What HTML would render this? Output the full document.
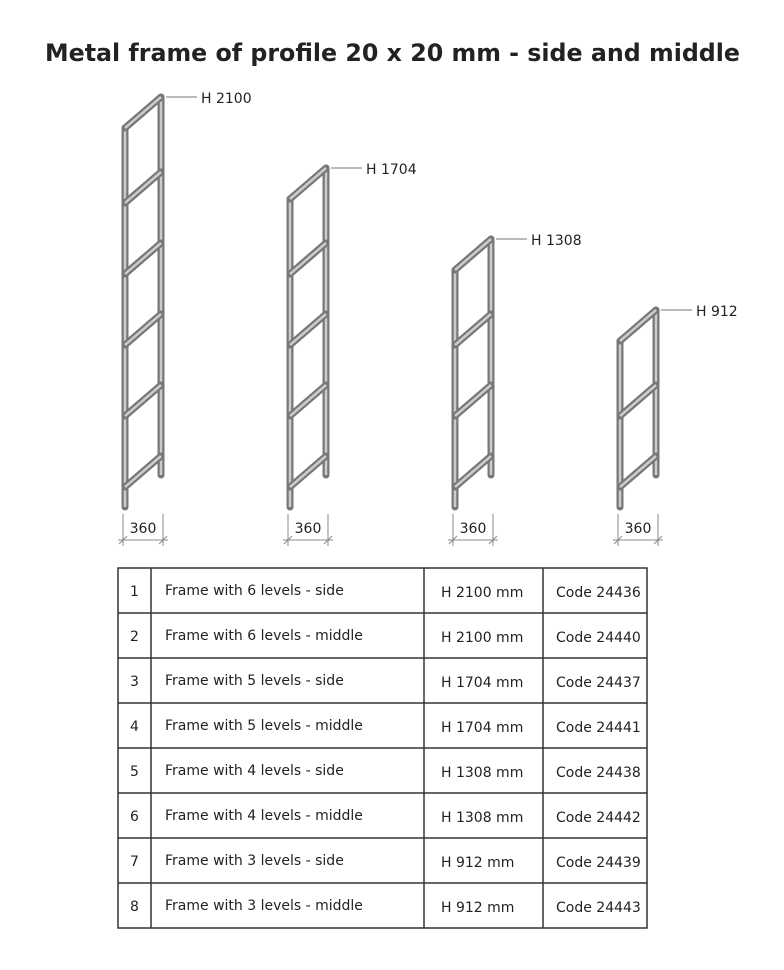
<!DOCTYPE html>
<html><head><meta charset="utf-8"><style>
html,body{margin:0;padding:0;background:#fff;width:784px;height:970px;overflow:hidden}
svg{display:block}
text{font-family:"DejaVu Sans","Liberation Sans",sans-serif;fill:#222}
</style></head><body>
<svg width="784" height="970" viewBox="0 0 784 970">
<text x="45" y="61" font-size="24" font-weight="bold" textLength="695" lengthAdjust="spacingAndGlyphs" fill="#111">Metal frame of profile 20 x 20 mm - side and middle</text>
<defs>
<g id="rung">
<line x1="0" y1="31" x2="36" y2="0" stroke="#777" stroke-width="7" stroke-linecap="round"/>
<line x1="0" y1="31" x2="36" y2="0" stroke="#ccc" stroke-width="2.5"/>
</g>
</defs>
<!-- frame 1 -->
<g>
<line x1="125" y1="128" x2="125" y2="507" stroke="#777" stroke-width="7" stroke-linecap="round"/>
<line x1="125" y1="128" x2="125" y2="507" stroke="#ccc" stroke-width="2.5"/>
<line x1="161" y1="97" x2="161" y2="475" stroke="#777" stroke-width="7" stroke-linecap="round"/>
<line x1="161" y1="97" x2="161" y2="475" stroke="#ccc" stroke-width="2.5"/>
<use href="#rung" x="125" y="97"/>
<use href="#rung" x="125" y="172"/><use href="#rung" x="125" y="243"/><use href="#rung" x="125" y="314"/><use href="#rung" x="125" y="385"/><use href="#rung" x="125" y="456"/>
<line x1="166" y1="97" x2="197" y2="97" stroke="#777" stroke-width="1"/>
<text x="201" y="103" font-size="14">H 2100</text>
</g>
<!-- frame 2 -->
<g>
<line x1="290" y1="199" x2="290" y2="507" stroke="#777" stroke-width="7" stroke-linecap="round"/>
<line x1="290" y1="199" x2="290" y2="507" stroke="#ccc" stroke-width="2.5"/>
<line x1="326" y1="168" x2="326" y2="475" stroke="#777" stroke-width="7" stroke-linecap="round"/>
<line x1="326" y1="168" x2="326" y2="475" stroke="#ccc" stroke-width="2.5"/>
<use href="#rung" x="290" y="168"/>
<use href="#rung" x="290" y="243"/><use href="#rung" x="290" y="314"/><use href="#rung" x="290" y="385"/><use href="#rung" x="290" y="456"/>
<line x1="331" y1="168" x2="362" y2="168" stroke="#777" stroke-width="1"/>
<text x="366" y="174" font-size="14">H 1704</text>
</g>
<!-- frame 3 -->
<g>
<line x1="455" y1="270" x2="455" y2="507" stroke="#777" stroke-width="7" stroke-linecap="round"/>
<line x1="455" y1="270" x2="455" y2="507" stroke="#ccc" stroke-width="2.5"/>
<line x1="491" y1="239" x2="491" y2="475" stroke="#777" stroke-width="7" stroke-linecap="round"/>
<line x1="491" y1="239" x2="491" y2="475" stroke="#ccc" stroke-width="2.5"/>
<use href="#rung" x="455" y="239"/>
<use href="#rung" x="455" y="314"/><use href="#rung" x="455" y="385"/><use href="#rung" x="455" y="456"/>
<line x1="496" y1="239" x2="527" y2="239" stroke="#777" stroke-width="1"/>
<text x="531" y="245" font-size="14">H 1308</text>
</g>
<!-- frame 4 -->
<g>
<line x1="620" y1="341" x2="620" y2="507" stroke="#777" stroke-width="7" stroke-linecap="round"/>
<line x1="620" y1="341" x2="620" y2="507" stroke="#ccc" stroke-width="2.5"/>
<line x1="656" y1="310" x2="656" y2="475" stroke="#777" stroke-width="7" stroke-linecap="round"/>
<line x1="656" y1="310" x2="656" y2="475" stroke="#ccc" stroke-width="2.5"/>
<use href="#rung" x="620" y="310"/>
<use href="#rung" x="620" y="385"/><use href="#rung" x="620" y="456"/>
<line x1="661" y1="310" x2="692" y2="310" stroke="#777" stroke-width="1"/>
<text x="696" y="316" font-size="14">H 912</text>
</g>
<!-- dimensions -->
<g stroke="#888" stroke-width="1">
<line x1="123" y1="514" x2="123" y2="546"/><line x1="163" y1="514" x2="163" y2="546"/><line x1="118" y1="540" x2="168" y2="540"/>
<line x1="119" y1="544" x2="127" y2="536"/><line x1="159" y1="544" x2="167" y2="536"/>
<line x1="288" y1="514" x2="288" y2="546"/><line x1="328" y1="514" x2="328" y2="546"/><line x1="283" y1="540" x2="333" y2="540"/>
<line x1="284" y1="544" x2="292" y2="536"/><line x1="324" y1="544" x2="332" y2="536"/>
<line x1="453" y1="514" x2="453" y2="546"/><line x1="493" y1="514" x2="493" y2="546"/><line x1="448" y1="540" x2="498" y2="540"/>
<line x1="449" y1="544" x2="457" y2="536"/><line x1="489" y1="544" x2="497" y2="536"/>
<line x1="618" y1="514" x2="618" y2="546"/><line x1="658" y1="514" x2="658" y2="546"/><line x1="613" y1="540" x2="663" y2="540"/>
<line x1="614" y1="544" x2="622" y2="536"/><line x1="654" y1="544" x2="662" y2="536"/>
</g>
<g font-size="14" text-anchor="middle">
<text x="143" y="533">360</text><text x="308" y="533">360</text><text x="473" y="533">360</text><text x="638" y="533">360</text>
</g>
<!-- table -->
<g stroke="#333" stroke-width="1.5" fill="none">
<rect x="118" y="568" width="529" height="360"/>
<line x1="151" y1="568" x2="151" y2="928"/>
<line x1="424" y1="568" x2="424" y2="928"/>
<line x1="543" y1="568" x2="543" y2="928"/>
<line x1="118" y1="613" x2="647" y2="613"/><line x1="118" y1="658" x2="647" y2="658"/>
<line x1="118" y1="703" x2="647" y2="703"/><line x1="118" y1="748" x2="647" y2="748"/>
<line x1="118" y1="793" x2="647" y2="793"/><line x1="118" y1="838" x2="647" y2="838"/>
<line x1="118" y1="883" x2="647" y2="883"/>
</g>
<g font-size="14">
<text x="130" y="596">1</text><text x="165" y="595">Frame with 6 levels - side</text><text x="441" y="597">H 2100 mm</text><text x="556" y="597">Code  24436</text>
<text x="130" y="641">2</text><text x="165" y="640">Frame with 6 levels - middle</text><text x="441" y="642">H 2100 mm</text><text x="556" y="642">Code 24440</text>
<text x="130" y="686">3</text><text x="165" y="685">Frame with 5 levels - side</text><text x="441" y="687">H 1704 mm</text><text x="556" y="687">Code 24437</text>
<text x="130" y="731">4</text><text x="165" y="730">Frame with 5 levels - middle</text><text x="441" y="732">H 1704 mm</text><text x="556" y="732">Code 24441</text>
<text x="130" y="776">5</text><text x="165" y="775">Frame with 4 levels - side</text><text x="441" y="777">H 1308 mm</text><text x="556" y="777">Code 24438</text>
<text x="130" y="821">6</text><text x="165" y="820">Frame with 4 levels - middle</text><text x="441" y="822">H 1308 mm</text><text x="556" y="822">Code 24442</text>
<text x="130" y="866">7</text><text x="165" y="865">Frame with 3 levels - side</text><text x="441" y="867">H 912 mm</text><text x="556" y="867">Code 24439</text>
<text x="130" y="911">8</text><text x="165" y="910">Frame with 3 levels - middle</text><text x="441" y="912">H 912 mm</text><text x="556" y="912">Code 24443</text>
</g>
</svg>
</body></html>
